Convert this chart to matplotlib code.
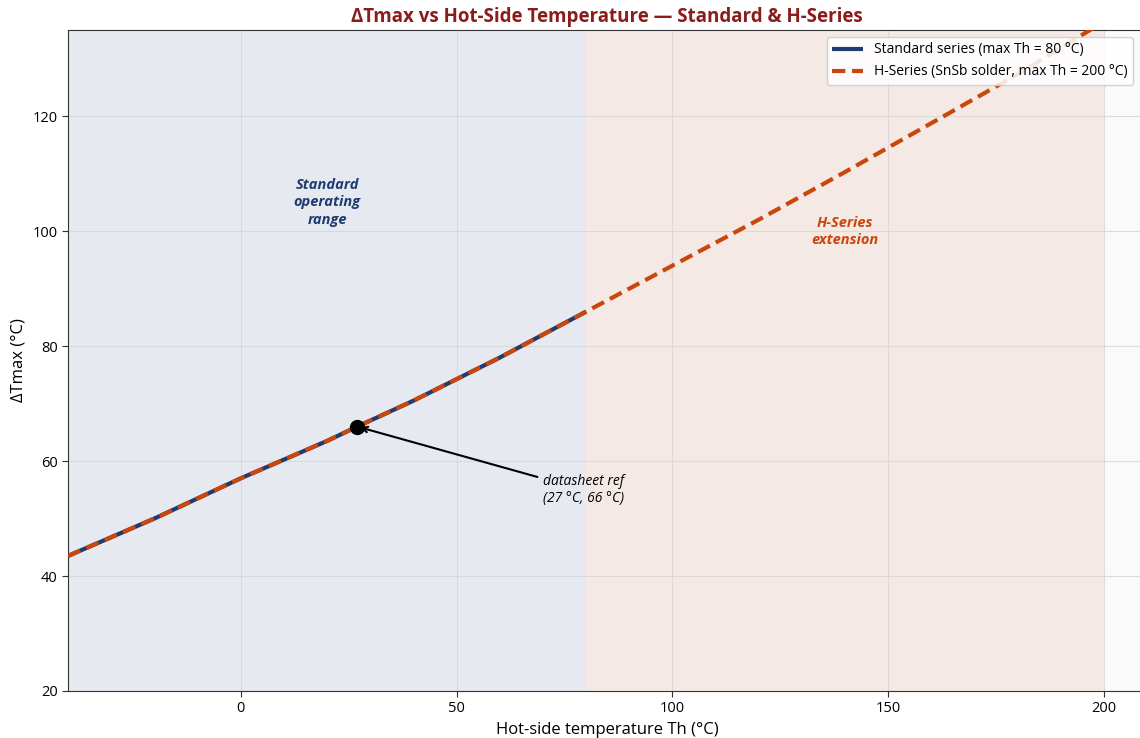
import matplotlib
matplotlib.use("Agg")
import matplotlib.pyplot as plt
import numpy as np

plt.rcParams['font.family'] = ['Open Sans', 'DejaVu Sans']

# Data
th_std = [-40, -20, 0, 20, 27, 40, 60, 80]
dt_std = [43.5, 50.0, 57.0, 63.5, 66.0, 70.5, 78.0, 86.0]
th_h = [-40, -20, 0, 20, 27, 40, 60, 80, 100, 120, 140, 160, 180, 200]
dt_h = [43.5, 50.0, 57.0, 63.5, 66.0, 70.5, 78.0, 86.0, 94.0, 102.0, 110.3, 118.8, 127.3, 136.5]
ref_point = (27, 66)
x_ticks = [0, 50, 100, 150, 200]
y_ticks = [20, 40, 60, 80, 100, 120]

navy = '#1f3b70'
orange = '#c9470c'

fig = plt.figure(figsize=(11.4, 7.38), dpi=100)
ax = fig.add_axes([68/1140, 47/738, (1146-68)/1140, (691-30)/738])
ax.set_facecolor('#fafafa')

ax.axvspan(-40, 80, color='#e6e9ef', zorder=0, lw=0)
ax.axvspan(80, 200, color='#f5e9e5', zorder=0, lw=0)

ax.plot(th_std, dt_std, color=navy, lw=3, solid_capstyle='butt', label='Standard series (max Th = 80 °C)', zorder=3)
ax.plot(th_h, dt_h, color=orange, lw=3, ls=(0, (3.2, 1.6)), label='H-Series (SnSb solder, max Th = 200 °C)', zorder=4)

ax.plot([ref_point[0]], [ref_point[1]], 'o', color='black', ms=10, zorder=6)
ax.annotate('datasheet ref\n(27 °C, 66 °C)', xy=ref_point, xytext=(70, 55),
            fontsize=10, style='italic', ha='left', va='center',
            arrowprops=dict(arrowstyle='->', color='black', lw=1.5), zorder=6)

ax.text(20, 105, 'Standard\noperating\nrange', color=navy, fontsize=10.5, fontweight='bold',
        style='italic', ha='center', va='center', linespacing=1.3)
ax.text(140, 100, 'H-Series\nextension', color=orange, fontsize=10.5, fontweight='bold',
        style='italic', ha='center', va='center', linespacing=1.3)

ax.set_xlim(-40, 209.7)
ax.set_ylim(20, 135)
ax.set_xticks(x_ticks)
ax.set_yticks(y_ticks)
ax.grid(True, color='#d5d5d8', lw=0.8, alpha=0.8)
ax.set_axisbelow(True)
ax.tick_params(labelsize=10.5, color='#333333', length=4)
for s in ax.spines.values():
    s.set_color('#333333')

ax.set_xlabel('Hot-side temperature Th (°C)', fontsize=12)
ax.set_ylabel('ΔTmax (°C)', fontsize=12)
ax.set_title('ΔTmax vs Hot-Side Temperature — Standard & H-Series', fontsize=13.5,
             fontweight='bold', fontstretch='condensed', color='#8b1c1c', pad=6)

leg = ax.legend(loc='upper right', bbox_to_anchor=((1140-68)/(1146-68), 1.0),
                fontsize=10, framealpha=0.85, edgecolor='#cccccc',
                handlelength=2.2, borderaxespad=0.5)

fig.savefig('out.png', dpi=100)
